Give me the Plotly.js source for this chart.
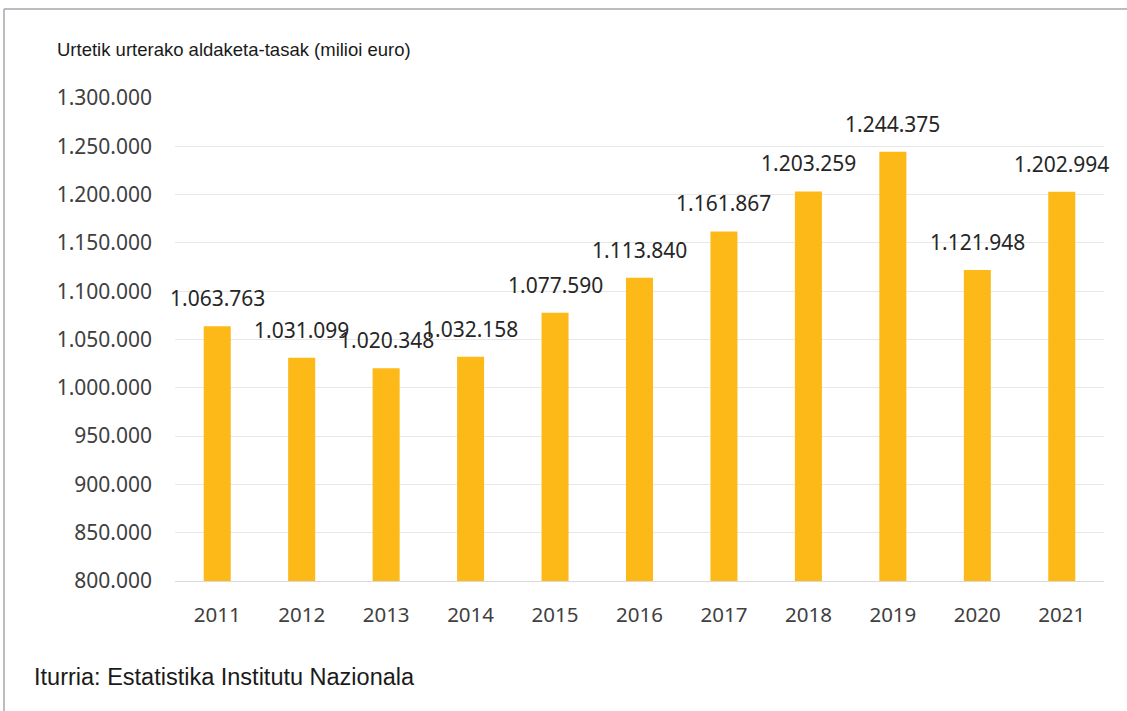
<!DOCTYPE html>
<html>
<head>
<meta charset="utf-8">
<script src="https://cdn.plot.ly/plotly-3.0.1.min.js"></script>
<style>html,body{margin:0;padding:0;background:#fff;}#chart{width:1127px;height:711px;}</style>
</head>
<body>
<div id="chart"></div>
<script>
const years = ['2011','2012','2013','2014','2015','2016','2017','2018','2019','2020','2021'];
const values = [1063763, 1031099, 1020348, 1032158, 1077590, 1113840, 1161867, 1203259, 1244375, 1121948, 1202994];
const yTicks = [800000, 850000, 900000, 950000, 1000000, 1050000, 1100000, 1150000, 1200000, 1250000, 1300000];
const titleText = 'Urtetik urterako aldaketa-tasak (milioi euro)';
const sourceText = 'Iturria: Estatistika Institutu Nazionala';

function fmt(v){ return String(v).replace(/\B(?=(\d{3})+(?!\d))/g, '.'); }

const L = 175, R = 23, T = 98, B = 130;
const W = 1127 - L - R, H = 711 - T - B;
const px = x => (x - L) / W;
const py = y => (711 - B - y) / H;

const labelFont = {family: 'Noto Sans, sans-serif', size: 21, color: '#262626'};

const annotations = years.map((yr, i) => ({
  x: i, y: values[i], xref: 'x', yref: 'y',
  text: fmt(values[i]), showarrow: false,
  xanchor: 'center', yanchor: 'bottom', yshift: 12,
  font: labelFont
}));
annotations.push({
  xref: 'paper', yref: 'paper', x: px(32), y: py(677),
  xanchor: 'left', yanchor: 'middle', showarrow: false,
  text: sourceText,
  font: {family: 'Liberation Sans, Arial, sans-serif', size: 23.5, color: '#1a1a1a'}
});

const trace = {
  type: 'bar', x: years, y: values,
  marker: {color: '#FCB918'},
  hoverinfo: 'x+y'
};

const layout = {
  width: 1127, height: 711,
  margin: {l: L, r: R, t: T, b: B},
  paper_bgcolor: '#ffffff', plot_bgcolor: '#ffffff',
  separators: ',.',
  bargap: 0.68,
  showlegend: false,
  title: {
    text: titleText, xref: 'container', yref: 'container',
    x: 57/1127, xanchor: 'left', y: 1 - 50/711, yanchor: 'middle',
    font: {family: 'Liberation Sans, Arial, sans-serif', size: 18.5, color: '#1a1a1a'}
  },
  xaxis: {
    type: 'category', range: [-0.5, 10.5], autorange: false,
    showgrid: false, zeroline: false,
    showline: true, linecolor: '#d9d9d9', linewidth: 1,
    ticks: '', ticklabelstandoff: 15,
    tickfont: {family: 'Noto Sans, sans-serif', size: 20.5, color: '#404040'}
  },
  yaxis: {
    range: [800000, 1300000], autorange: false, tickvals: yTicks, ticktext: yTicks.map(fmt),
    showgrid: true, gridcolor: '#e8e8e8', gridwidth: 1,
    zeroline: false, showline: false, ticks: '', ticklabelstandoff: 22,
    tickfont: {family: 'Noto Sans, sans-serif', size: 21, color: '#404040'}
  },
  annotations: annotations,
  shapes: [
    {type: 'line', xref: 'paper', yref: 'paper', x0: px(4), x1: px(1127), y0: py(9), y1: py(9), line: {color: '#a6a6ae', width: 1.5}},
    {type: 'line', xref: 'paper', yref: 'paper', x0: px(4), x1: px(4), y0: py(9), y1: py(711), line: {color: '#a6a6ae', width: 1.5}}
  ]
};

Plotly.newPlot('chart', [trace], layout, {displayModeBar: false, staticPlot: true});
</script>
</body>
</html>
